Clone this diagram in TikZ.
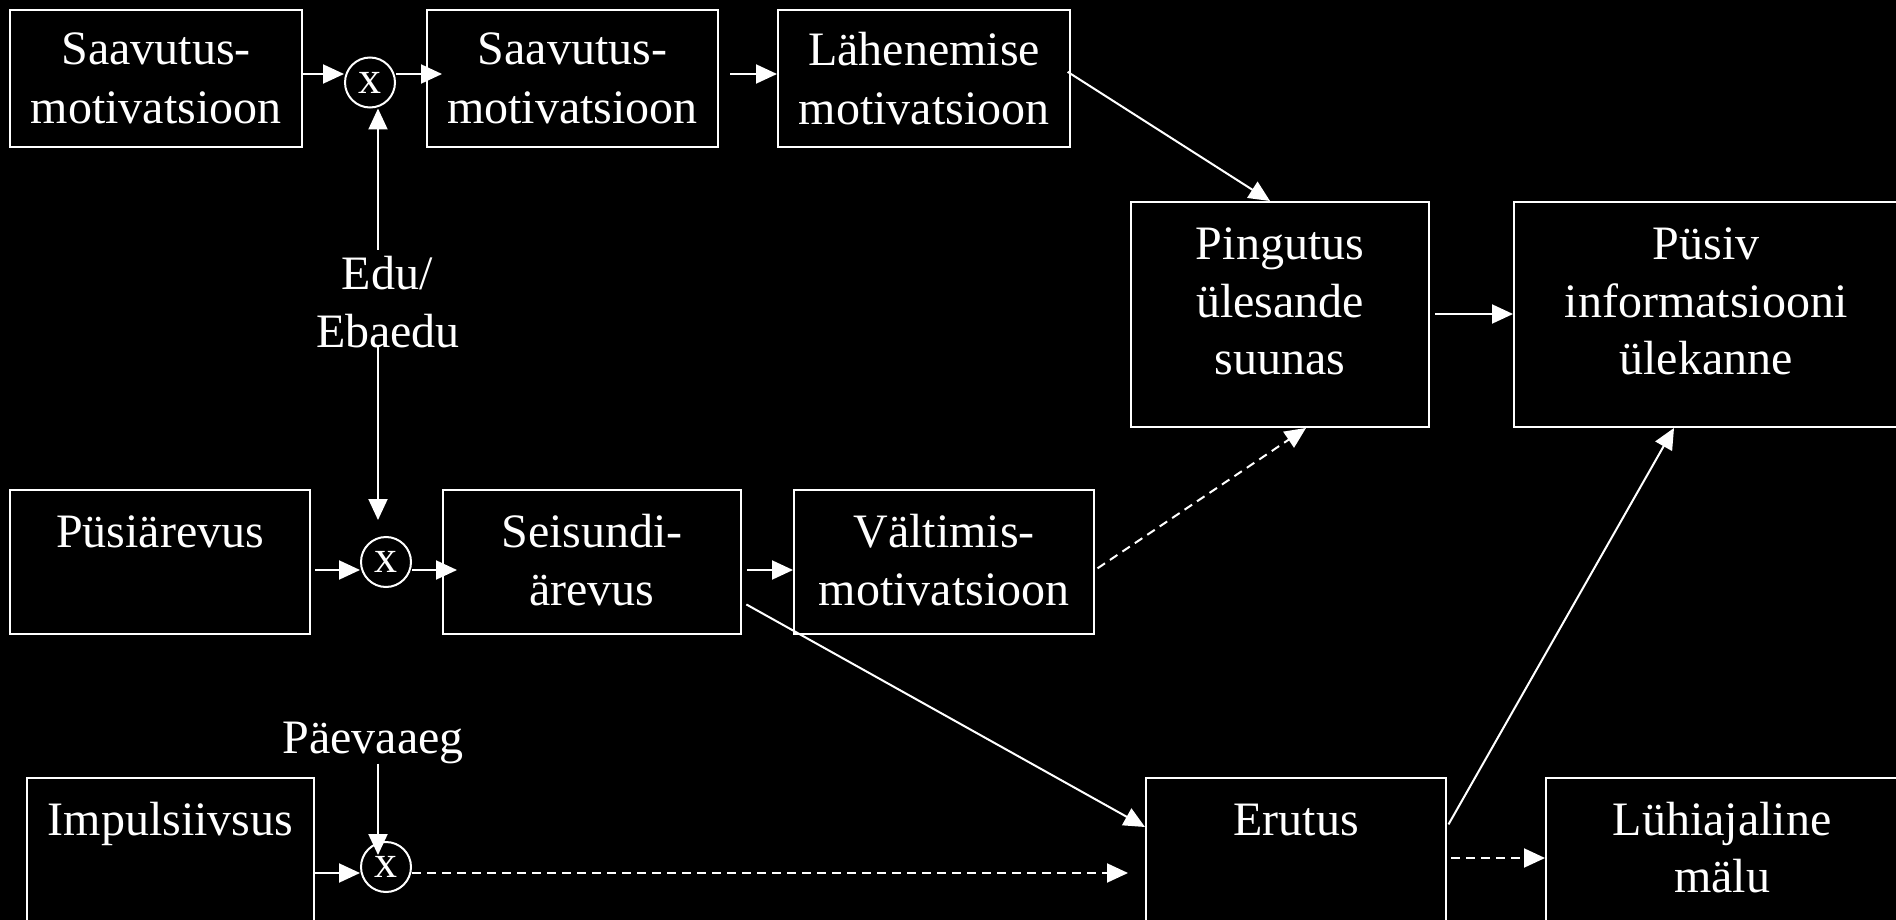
\documentclass[tikz,border=0pt]{standalone}
\usepackage{fontspec}
\setmainfont{Liberation Serif}
\usetikzlibrary{arrows.meta}
\begin{document}
\begin{tikzpicture}[x=1pt,y=-1pt,
  box/.style={draw=white, line width=2pt, rectangle, inner sep=0pt},
  txt/.style={text=white, inner sep=0pt, font=\fontsize{48}{58}\selectfont, anchor=base},
  mult/.style={draw=white, line width=2pt, circle, minimum size=50pt, inner sep=0pt, text=white, font=\fontsize{46}{50}\selectfont},
  arr/.style={white, line width=2pt, -{Triangle[length=21pt,width=19pt]}},
  darr/.style={arr, dash pattern=on 9pt off 6pt},
]
\clip (0,0) rectangle (1896,920);
\fill[black] (0,0) rectangle (1896,920);

% boxes
\node[box, minimum width=292pt, minimum height=137pt] (A) at (156,78.5) {};
\node[box, minimum width=291pt, minimum height=137pt] (B) at (572.5,78.5) {};
\node[box, minimum width=292pt, minimum height=137pt] (C) at (924,78.5) {};
\node[box, minimum width=298pt, minimum height=225pt] (D) at (1280,314.5) {};
\node[box, minimum width=384pt, minimum height=225pt] (E) at (1706,314.5) {};
\node[box, minimum width=300pt, minimum height=144pt] (F) at (160,562) {};
\node[box, minimum width=298pt, minimum height=144pt] (G) at (592,562) {};
\node[box, minimum width=300pt, minimum height=144pt] (H) at (944,562) {};
\node[box, minimum width=300pt, minimum height=144pt] (I) at (1296,850) {};
\node[box, minimum width=352pt, minimum height=144pt] (J) at (1722,850) {};
\node[box, minimum width=287pt, minimum height=144pt] (K) at (170.5,850) {};

% multiplication circles
\node[mult] (X1) at (370,82.5) {\raisebox{-4pt}{x}};
\node[mult] (X2) at (386,562) {\raisebox{-4pt}{x}};
\node[mult] (X3) at (386,867) {\raisebox{-4pt}{x}};

% texts
\node[txt] (A1) at (156,65) {Saavutus-};
\node[txt] (A2) at (156,124) {motivatsioon};
\node[txt] (B1) at (572.5,65) {Saavutus-};
\node[txt] (B2) at (572.5,124) {motivatsioon};
\node[txt] (C1) at (924,66) {Lähenemise};
\node[txt] (C2) at (924,125) {motivatsioon};
\node[txt] (D1) at (1280,259) {Pingutus};
\node[txt] (D2) at (1280,317) {ülesande};
\node[txt] (D3) at (1280,374) {suunas};
\node[txt] (E1) at (1706,259) {Püsiv};
\node[txt] (E2) at (1706,317) {informatsiooni};
\node[txt] (E3) at (1706,374) {ülekanne};
\node[txt] (F1) at (160,547) {Püsiärevus};
\node[txt] (G1) at (592,547) {Seisundi-};
\node[txt] (G2) at (592,605) {ärevus};
\node[txt] (H1) at (944,547) {Vältimis-};
\node[txt] (H2) at (944,605) {motivatsioon};
\node[txt] (I1) at (1296,835) {Erutus};
\node[txt] (J1) at (1722,835) {Lühiajaline};
\node[txt] (J2) at (1722,892) {mälu};
\node[txt] (K1) at (170.5,835) {Impulsiivsus};
\node[txt] (edu1) at (387,290) {Edu/};
\node[txt] (edu2) at (388,347) {Ebaedu};
\node[txt] (paev) at (373,753) {Päevaaeg};

\coordinate (eduTop) at (378,250);
\coordinate (eduBot) at (378,345);

% connectors row 1
\draw[arr] (A.east |- 0,74) -- (X1.west |- 0,74);
\draw[arr, shorten >=-16pt] (X1.east |- 0,74) -- (B.west |- 0,74);
\draw[arr, shorten <=11pt] (B.east |- 0,74) -- (C.west |- 0,74);
\draw[arr, shorten <=-4pt] (C.east |- 0,74) -- (D.north -| 1270,0);
\draw[arr] (eduTop) -- (X1.south -| eduTop);
\draw[arr, shorten >=16pt] (eduBot) -- (X2.north -| eduBot);
\draw[arr, shorten <=5pt] (D.east |- 0,314) -- (E.west |- 0,314);

% row 2
\draw[arr, shorten <=4pt] (F.east |- 0,570) -- (X2.west |- 0,570);
\draw[arr, shorten >=-15pt] (X2.east |- 0,570) -- (G.west |- 0,570);
\draw[arr, shorten <=5pt] (G.east |- 0,570) -- (H.west |- 0,570);
\draw[darr, shorten <=3pt] (H.east |- 0,570) -- (D.south -| 1306,0);
\draw[arr, shorten <=5pt] (G.east |- 0,602) -- (I.west |- 0,827);

% row 3
\draw[arr] (K.east |- 0,873) -- (X3.west |- 0,873);
\draw[arr, shorten >=-14pt] (paev.south -| 378,0) -- (X3.north -| 378,0);
\draw[darr, shorten >=17pt] (X3.east |- 0,873) -- (I.west |- 0,873);
\draw[arr, shorten <=3pt] (I.east |- 0,827) -- (E.south -| 1674,0);
\draw[darr, shorten <=4pt] (I.east |- 0,858) -- (J.west |- 0,858);
\end{tikzpicture}
\end{document}
